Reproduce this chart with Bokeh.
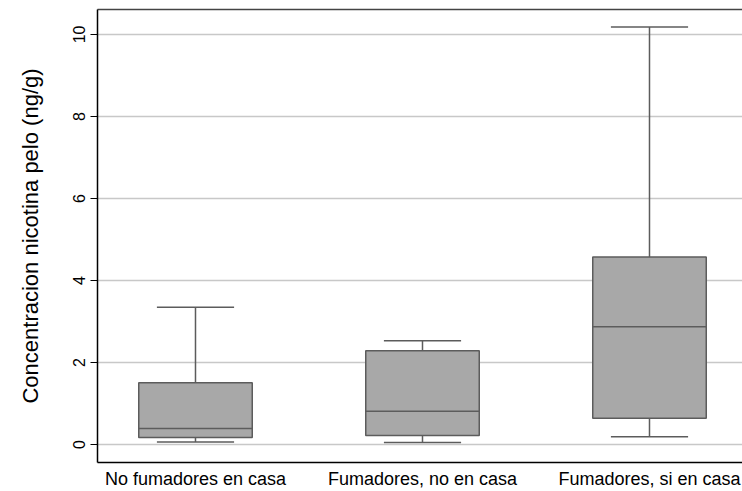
from bokeh.plotting import figure
from bokeh.models import Range1d, FixedTicker, LinearAxis, ColumnDataSource
from bokeh.embed import file_html
from bokeh.resources import INLINE

categories = ["No fumadores en casa", "Fumadores, no en casa", "Fumadores, si en casa"]
lower = [0.06, 0.05, 0.19]
q1 = [0.17, 0.22, 0.64]
median = [0.39, 0.81, 2.87]
q3 = [1.51, 2.29, 4.57]
upper = [3.35, 2.53, 10.18]
y_ticks = [0, 2, 4, 6, 8, 10]

pos = [i + 1 for i in range(len(categories))]
box_w = 0.5
cap_w = 0.34

src = ColumnDataSource(dict(
    x=pos, lower=lower, q1=q1, median=median, q3=q3, upper=upper,
    xl=[p_ - box_w / 2 for p_ in pos], xr=[p_ + box_w / 2 for p_ in pos],
    cl=[p_ - cap_w / 2 for p_ in pos], cr=[p_ + cap_w / 2 for p_ in pos],
))

FONT = "Liberation Sans"
EDGE = "#5c5c5c"

p = figure(width=742, height=491, output_backend="svg", toolbar_location=None,
           x_range=Range1d(0.5683, 3.4097), y_range=Range1d(-0.437, 10.607),
           min_border_left=97, min_border_right=0, min_border_top=9, min_border_bottom=27)
p.outline_line_color = None
p.background_fill_color = "white"
p.border_fill_color = "white"

# grid
p.xgrid.grid_line_color = None
p.ygrid.grid_line_color = "#c8c8c8"
p.ygrid.grid_line_width = 1.5
p.ygrid.ticker = FixedTicker(ticks=y_ticks)

# whiskers
p.segment(x0="x", y0="q3", x1="x", y1="upper", source=src, line_color=EDGE, line_width=1.5)
p.segment(x0="x", y0="lower", x1="x", y1="q1", source=src, line_color=EDGE, line_width=1.5)
p.segment(x0="cl", y0="upper", x1="cr", y1="upper", source=src, line_color=EDGE, line_width=1.5)
p.segment(x0="cl", y0="lower", x1="cr", y1="lower", source=src, line_color=EDGE, line_width=1.5)
# boxes
p.vbar(x="x", width=box_w, bottom="q1", top="q3", source=src,
       fill_color="#a8a8a8", line_color=EDGE, line_width=1.5)
p.segment(x0="xl", y0="median", x1="xr", y1="median", source=src, line_color=EDGE, line_width=1.5)

# x axis
xa = p.xaxis[0]
xa.ticker = FixedTicker(ticks=pos)
xa.major_label_overrides = {p_: c for p_, c in zip(pos, categories)}
xa.major_tick_line_color = None
xa.minor_tick_line_color = None
xa.major_tick_out = 0
xa.major_tick_in = 0
xa.major_label_standoff = 6
xa.major_label_text_font = FONT
xa.major_label_text_font_size = "18px"
xa.major_label_text_color = "black"
xa.axis_line_color = "black"
xa.axis_line_width = 1.5

# y axis
ya = p.yaxis[0]
ya.ticker = FixedTicker(ticks=y_ticks)
ya.major_label_orientation = "vertical"
ya.major_label_text_font = FONT
ya.major_label_text_font_size = "16px"
ya.major_label_text_color = "black"
ya.major_label_standoff = 5
ya.major_tick_out = 7
ya.major_tick_in = 0
ya.major_tick_line_color = "black"
ya.major_tick_line_width = 1.2
ya.minor_tick_line_color = None
ya.axis_line_color = "black"
ya.axis_line_width = 1.5
ya.axis_label = "Concentracion nicotina pelo (ng/g)"
ya.axis_label_text_font = FONT
ya.axis_label_text_font_size = "22px"
ya.axis_label_text_font_style = "normal"
ya.axis_label_text_color = "black"
ya.axis_label_standoff = 28

# top border line
top = LinearAxis(ticker=FixedTicker(ticks=[]), major_label_text_font_size="0px",
                 major_tick_line_color=None, minor_tick_line_color=None,
                 major_tick_out=0, major_tick_in=0,
                 major_label_standoff=0, axis_line_color="#444444", axis_line_width=1.5)
p.add_layout(top, "above")

open("out.html", "w").write(file_html(p, INLINE))
